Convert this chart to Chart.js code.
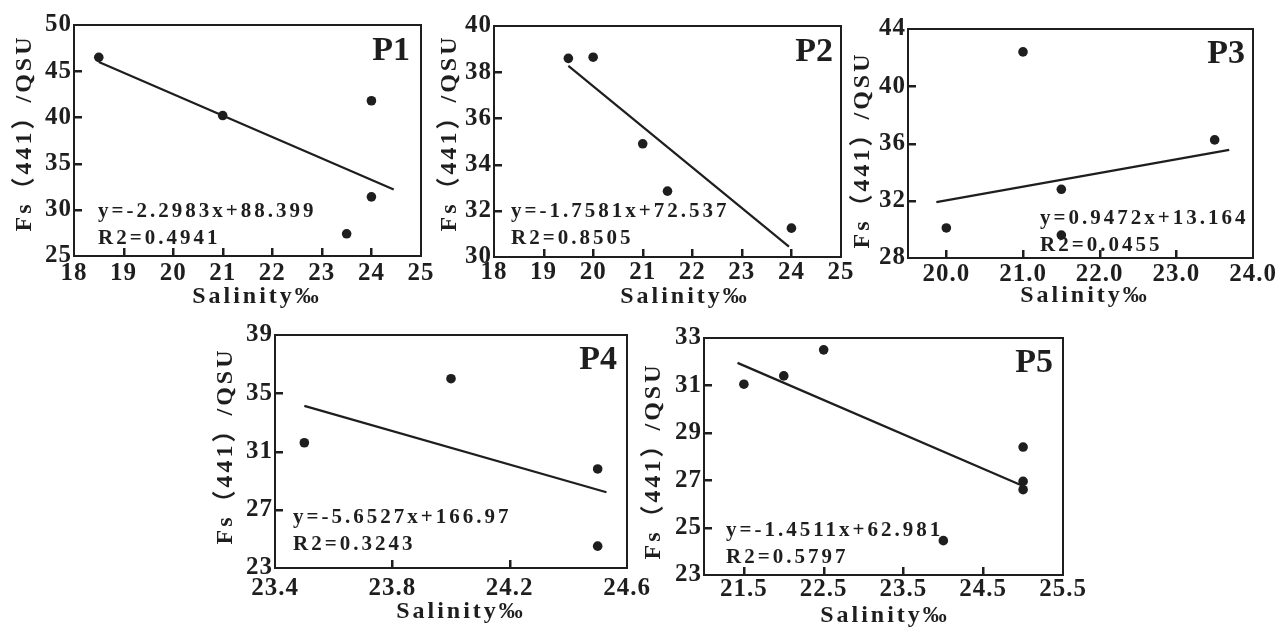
<!DOCTYPE html>
<html>
<head>
<meta charset="utf-8">
<script src="https://cdn.jsdelivr.net/npm/chart.js@4.4.1/dist/chart.umd.min.js"></script>
<style>
  html, body { margin: 0; padding: 0; background: #fff; width: 1279px; height: 628px; overflow: hidden; }
  canvas { position: absolute; }
</style>
</head>
<body>
<canvas id="c1"></canvas>
<canvas id="c2"></canvas>
<canvas id="c3"></canvas>
<canvas id="c4"></canvas>
<canvas id="c5"></canvas>
<script>
// ---- data ----
// P1
const p1Sal = [18.5, 21.0, 24.0, 24.0, 23.5];
const p1Fs = [46.5, 40.2, 41.8, 31.4, 27.4];
const p1FitSal = [18.5, 24.45];
const p1FitFs = [46.0, 32.2];
const p1XRange = [18, 25];
const p1YRange = [25, 50];
const p1XTicks = [18, 19, 20, 21, 22, 23, 24, 25];
const p1YTicks = [25, 30, 35, 40, 45, 50];
const p1Eq = ['y=-2.2983x+88.399', 'R2=0.4941'];

// P2
const p2Sal = [19.5, 20.0, 21.0, 21.5, 24.0];
const p2Fs = [38.6, 38.65, 34.9, 32.85, 31.25];
const p2FitSal = [19.5, 23.95];
const p2FitFs = [38.27, 30.45];
const p2XRange = [18, 25];
const p2YRange = [30, 40];
const p2XTicks = [18, 19, 20, 21, 22, 23, 24, 25];
const p2YTicks = [30, 32, 34, 36, 38, 40];
const p2Eq = ['y=-1.7581x+72.537', 'R2=0.8505'];

// P3
const p3Sal = [20.0, 21.0, 21.5, 21.5, 23.5];
const p3Fs = [30.1, 42.4, 32.8, 29.6, 36.25];
const p3FitSal = [19.87, 23.69];
const p3FitFs = [31.9, 35.55];
const p3XRange = [19.5, 24];
const p3YRange = [28, 44];
const p3XTicks = [20, 21, 22, 23, 24];
const p3YTicks = [28, 32, 36, 40, 44];
const p3Eq = ['y=0.9472x+13.164', 'R2=0.0455'];

// P4
const p4Sal = [23.5, 24.0, 24.5, 24.5];
const p4Fs = [31.6, 36.0, 29.8, 24.5];
const p4FitSal = [23.5, 24.53];
const p4FitFs = [34.13, 28.2];
const p4XRange = [23.4, 24.6];
const p4YRange = [23, 39];
const p4XTicks = [23.4, 23.8, 24.2, 24.6];
const p4YTicks = [23, 27, 31, 35, 39];
const p4Eq = ['y=-5.6527x+166.97', 'R2=0.3243'];

// P5
const p5Sal = [21.5, 22.0, 22.5, 24.0, 25.0, 25.0, 25.0];
const p5Fs = [31.05, 31.4, 32.5, 24.45, 28.4, 26.95, 26.6];
const p5FitSal = [21.42, 25.0];
const p5FitFs = [31.95, 26.76];
const p5XRange = [21, 25.5];
const p5YRange = [23, 33];
const p5XTicks = [21.5, 22.5, 23.5, 24.5, 25.5];
const p5YTicks = [23, 25, 27, 29, 31, 33];
const p5Eq = ['y=-1.4511x+62.981', 'R2=0.5797'];

const xTitle = 'Salinity‰';
const yTitle = 'Fs（441）/QSU';

// ---- look ----
const FONT = '"Liberation Serif", "Times New Roman", "Noto Sans CJK SC", serif';
const INK = '#1e1e1e';

// page positions (plot box, title centres, equation / tag anchors)
const panels = [
  { id: 'c1', name: 'P1', x: p1Sal, y: p1Fs, fx: p1FitSal, fy: p1FitFs, xr: p1XRange, yr: p1YRange, xt: p1XTicks, yt: p1YTicks, eq: p1Eq, dec: 0,
    plot: [74, 25, 421, 256], xT: [257, 297], yT: [25, 133], eqAt: [98, 217, 244], tag: [410, 60], xPad: 5.5 },
  { id: 'c2', name: 'P2', x: p2Sal, y: p2Fs, fx: p2FitSal, fy: p2FitFs, xr: p2XRange, yr: p2YRange, xt: p2XTicks, yt: p2YTicks, eq: p2Eq, dec: 0,
    plot: [494, 26, 841, 257], xT: [685, 297], yT: [450, 133], eqAt: [511, 217, 244], tag: [833, 61], xPad: 3.5 },
  { id: 'c3', name: 'P3', x: p3Sal, y: p3Fs, fx: p3FitSal, fy: p3FitFs, xr: p3XRange, yr: p3YRange, xt: p3XTicks, yt: p3YTicks, eq: p3Eq, dec: 1,
    plot: [908, 29, 1253, 258], xT: [1085, 296], yT: [863, 150], eqAt: [1040, 224, 251], tag: [1245, 63], xPad: 4.5 },
  { id: 'c4', name: 'P4', x: p4Sal, y: p4Fs, fx: p4FitSal, fy: p4FitFs, xr: p4XRange, yr: p4YRange, xt: p4XTicks, yt: p4YTicks, eq: p4Eq, dec: 1,
    plot: [275, 335, 627, 568], xT: [461, 612], yT: [226, 446], eqAt: [293, 523, 550], tag: [617, 369], xPad: 8.5 },
  { id: 'c5', name: 'P5', x: p5Sal, y: p5Fs, fx: p5FitSal, fy: p5FitFs, xr: p5XRange, yr: p5YRange, xt: p5XTicks, yt: p5YTicks, eq: p5Eq, dec: 1,
    plot: [704, 338, 1063, 575], xT: [885, 616], yT: [654, 461], eqAt: [726, 536, 563], tag: [1053, 372], xPad: 2.5 }
];

const LEFT = 70, TOP = 25, RIGHT = 60, BOTTOM = 60;
const TICK = 8; // inward tick mark length

// tick labels get a little letter spacing, like the scanned figure
const spacing = {
  id: 'spacing',
  beforeLayout(chart) { chart.ctx.letterSpacing = '1px'; },
  beforeDraw(chart) { chart.ctx.letterSpacing = '1px'; }
};

// frame, inward ticks, axis titles, equations and panel tag
function decorFor(p, ox, oy) {
  return {
    id: 'decor',
    afterDraw(chart) {
      const { ctx, chartArea: a } = chart;
      const xs = chart.scales.x, ys = chart.scales.y;
      ctx.save();
      ctx.strokeStyle = INK;
      ctx.fillStyle = INK;
      ctx.lineWidth = 2;
      ctx.strokeRect(a.left, a.top, a.right - a.left, a.bottom - a.top);

      // tick marks pointing into the plot
      p.xt.forEach(v => {
        if (v <= xs.min || v >= xs.max) return;
        const px = Math.round(xs.getPixelForValue(v));
        ctx.fillRect(px - 1, a.bottom - TICK, 2.5, TICK);
      });
      p.yt.forEach(v => {
        if (v <= ys.min || v >= ys.max) return;
        const py = Math.round(ys.getPixelForValue(v));
        ctx.fillRect(a.left, py - 1, TICK, 2.5);
      });

      ctx.letterSpacing = '3px';
      ctx.font = 'bold 24px ' + FONT;
      ctx.textAlign = 'center';
      ctx.textBaseline = 'middle';
      ctx.fillText(xTitle, p.xT[0] - ox, p.xT[1] - oy);
      ctx.save();
      ctx.translate(p.yT[0] - ox, p.yT[1] - oy);
      ctx.rotate(-Math.PI / 2);
      ctx.fillText(yTitle, 0, 0);
      ctx.restore();

      ctx.textBaseline = 'alphabetic';
      ctx.textAlign = 'left';
      ctx.font = 'bold 21px ' + FONT;
      ctx.fillText(p.eq[0], p.eqAt[0] - ox, p.eqAt[1] - oy);
      ctx.fillText(p.eq[1], p.eqAt[0] - ox, p.eqAt[2] - oy);

      ctx.letterSpacing = '0px';
      ctx.textAlign = 'right';
      ctx.font = 'bold 34px ' + FONT;
      ctx.fillText(p.name, p.tag[0] - ox, p.tag[1] - oy);
      ctx.restore();
    }
  };
}

function makeChart(p) {
  const cv = document.getElementById(p.id);
  const ox = p.plot[0] - LEFT, oy = p.plot[1] - TOP;
  cv.style.left = ox + 'px';
  cv.style.top = oy + 'px';
  cv.width = p.plot[2] + RIGHT - ox;
  cv.height = p.plot[3] + BOTTOM - oy;

  const tickFont = { family: FONT, size: 25, weight: 'bold', lineHeight: 1 };
  const grid = { display: false, drawTicks: false };

  new Chart(cv, {
    type: 'scatter',
    data: {
      datasets: [
        {
          data: p.x.map((v, i) => ({ x: v, y: p.y[i] })),
          pointRadius: 4.8,
          pointBackgroundColor: INK,
          pointBorderWidth: 0
        },
        {
          data: p.fx.map((v, i) => ({ x: v, y: p.fy[i] })),
          showLine: true,
          pointRadius: 0,
          borderColor: INK,
          borderWidth: 2.2
        }
      ]
    },
    options: {
      responsive: false,
      animation: false,
      events: [],
      layout: { padding: { left: 0, top: TOP, right: RIGHT, bottom: 0 } },
      plugins: {
        legend: { display: false },
        tooltip: { enabled: false }
      },
      scales: {
        x: {
          type: 'linear',
          min: p.xr[0],
          max: p.xr[1],
          afterBuildTicks: s => { s.ticks = p.xt.map(v => ({ value: v })); },
          afterFit: s => { s.height = BOTTOM; },
          grid: grid,
          border: { display: false },
          ticks: {
            padding: p.xPad,
            color: INK,
            font: tickFont,
            maxRotation: 0,
            autoSkip: false,
            callback: v => Number(v).toFixed(p.dec)
          }
        },
        y: {
          type: 'linear',
          min: p.yr[0],
          max: p.yr[1],
          afterBuildTicks: s => { s.ticks = p.yt.map(v => ({ value: v })); },
          afterFit: s => { s.width = LEFT; },
          grid: grid,
          border: { display: false },
          ticks: {
            padding: 2,
            color: INK,
            font: tickFont,
            autoSkip: false,
            callback: v => Number(v).toFixed(0)
          }
        }
      }
    },
    plugins: [spacing, decorFor(p, ox, oy)]
  });
}

panels.forEach(makeChart);
</script>
</body>
</html>
